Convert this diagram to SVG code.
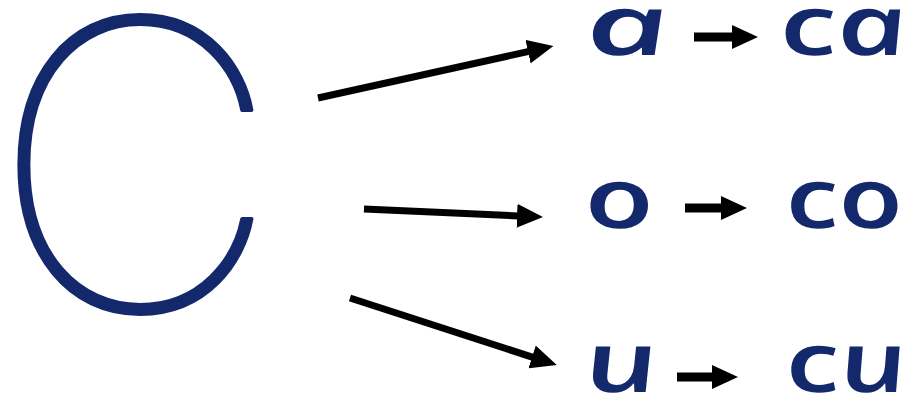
<svg xmlns="http://www.w3.org/2000/svg" width="914" height="406" viewBox="0 0 914 406">
<style>
.bg{fill:#ffffff}
.big{font-family:"Inter","Lato","Open Sans",sans-serif;font-weight:100;font-size:400px;fill:#13296b;stroke:#13296b;stroke-width:4px;stroke-linejoin:round}
.cur{font-family:"Open Sans","Noto Sans",sans-serif;font-style:italic;font-weight:600;font-size:84px;fill:#13296b}
.arr{stroke:#000;stroke-width:7;fill:none;marker-end:url(#head)}
.sarr{stroke:#000;stroke-width:9;fill:none;marker-end:url(#head)}
</style>
<defs>
<marker id="head" markerUnits="userSpaceOnUse" viewBox="0 0 26 24" markerWidth="26" markerHeight="24" refX="1" refY="12" orient="auto">
<path d="M0,0 L26,12 L0,24 Z" fill="#000"/>
</marker>
</defs>
<rect class="bg" x="0" y="0" width="914" height="406"/>
<g id="letter-c">
<text class="big" x="135" y="310" text-anchor="middle">C</text>
</g>
<g id="connectors">
<line class="arr" x1="318" y1="98" x2="529" y2="51.4"/>
<line class="arr" x1="364" y1="209" x2="518" y2="215.9"/>
<line class="arr" x1="350" y1="298" x2="533" y2="357.3"/>
<line class="sarr" x1="694" y1="37" x2="733" y2="37"/>
<line class="sarr" x1="685" y1="208" x2="722" y2="208"/>
<line class="sarr" x1="677" y1="377" x2="713" y2="377"/>
</g>
<g id="row-a">
<text class="cur" transform="translate(590,55) skewX(12)" textLength="84" lengthAdjust="spacingAndGlyphs">a</text>
<text class="cur" transform="translate(784,55) skewX(12)" textLength="128" lengthAdjust="spacingAndGlyphs">ca</text>
</g>
<g id="row-o">
<text class="cur" transform="translate(589,228) skewX(12)" textLength="70" lengthAdjust="spacingAndGlyphs">o</text>
<text class="cur" transform="translate(790,228) skewX(12)" textLength="118" lengthAdjust="spacingAndGlyphs">co</text>
</g>
<g id="row-u">
<text class="cur" transform="translate(589,392) skewX(12)" textLength="74" lengthAdjust="spacingAndGlyphs">u</text>
<text class="cur" transform="translate(790,392) skewX(12)" textLength="122" lengthAdjust="spacingAndGlyphs">cu</text>
</g>
</svg>
